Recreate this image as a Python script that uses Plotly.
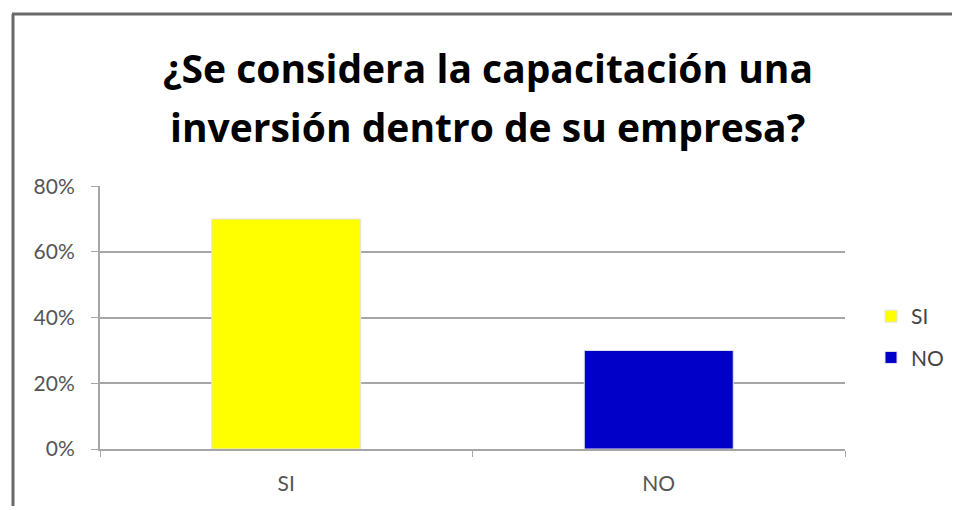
import plotly.graph_objects as go

categories = ["SI", "NO"]
values = [0.70, 0.30]
colors = ["#ffff00", "#0000c8"]
y_ticks = [0, 0.2, 0.4, 0.6, 0.8]
y_tick_labels = ["0%", "20%", "40%", "60%", "80%"]
title_lines = ["¿Se considera la capacitación una", "inversión dentro de su empresa?"]

W, H = 957, 510
L, R, T, B = 100, 112, 186, 61
FONT = "Lato, 'Open Sans', sans-serif"
TITLE_FONT = "'Open Sans', Lato, sans-serif"


def px_x(x):
    return (x - L) / (W - L - R)


def px_y(y):
    return (H - B - y) / (H - T - B)


fig = go.Figure()
for cat, val, col in zip(categories, values, colors):
    fig.add_trace(
        go.Bar(
            x=[cat],
            y=[val],
            name=cat,
            legendgroup=cat,
            width=0.4,
            marker=dict(color=col, line=dict(color="#e2e2ea", width=1)),
        )
    )

# title as two annotations so the line spacing can match
for text, ypix in zip(title_lines, [68, 126]):
    fig.add_annotation(
        text=text,
        xref="paper", yref="paper",
        x=px_x(488), y=px_y(ypix),
        xanchor="center", yanchor="middle",
        showarrow=False,
        font=dict(family=TITLE_FONT, size=39, color="#000000", weight="bold"),
    )

fig.update_layout(
    width=W,
    height=H,
    margin=dict(l=L, r=R, t=T, b=B),
    paper_bgcolor="white",
    plot_bgcolor="white",
    barmode="overlay",
    font=dict(family=FONT, color="#555555", size=21),
    legend=dict(
        xref="container",
        yref="container",
        x=871 / W,
        y=1 - 337 / H,
        xanchor="left",
        yanchor="middle",
        font=dict(size=21, color="#444444"),
        itemwidth=30,
        tracegroupgap=11,
    ),
    xaxis=dict(
        showline=True,
        linecolor="#a6a6a6",
        linewidth=2,
        ticks="outside",
        tickson="boundaries",
        ticklen=6,
        tickcolor="#a6a6a6",
        showgrid=False,
        tickfont=dict(size=21, color="#555555"),
        ticklabelstandoff=15,
    ),
    yaxis=dict(
        range=[0, 0.8005],
        tickvals=y_ticks,
        ticktext=y_tick_labels,
        showline=True,
        linecolor="#a6a6a6",
        linewidth=2,
        ticks="outside",
        ticklen=7,
        tickcolor="#a6a6a6",
        showgrid=True,
        gridcolor="#a6a6a6",
        gridwidth=2,
        zeroline=False,
        tickfont=dict(size=21, color="#555555"),
        ticklabelstandoff=12,
    ),
    shapes=[
        dict(type="line", xref="paper", yref="paper",
             x0=px_x(12), x1=px_x(952), y0=px_y(14), y1=px_y(14),
             line=dict(color="#6a6a6a", width=3)),
        dict(type="line", xref="paper", yref="paper",
             x0=px_x(13), x1=px_x(13), y0=px_y(14), y1=px_y(506),
             line=dict(color="#6a6a6a", width=3)),
    ],
)

fig.write_html(
    "out.html",
    config={"displayModeBar": False},
    post_script="document.body.style.margin='0';",
)
